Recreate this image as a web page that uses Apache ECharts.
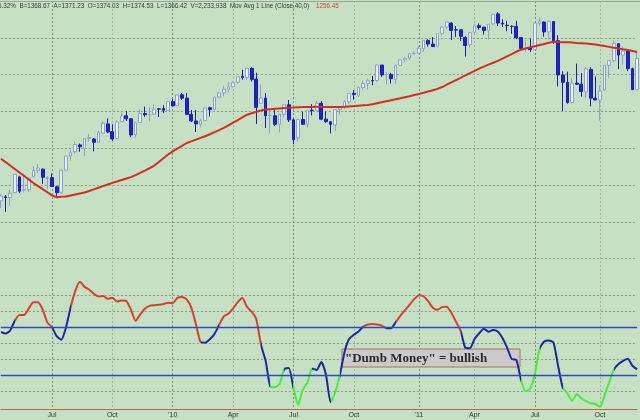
<!DOCTYPE html>
<html>
<head>
<meta charset="utf-8">
<script src="https://cdn.jsdelivr.net/npm/echarts@6/dist/echarts.min.js"></script>
<style>
  html, body { margin: 0; padding: 0; }
  #chart { width: 640px; height: 420px; }
</style>
</head>
<body>
<div id="chart"></div>
<script>
// weekly bars, first Friday of the range
const firstWeek = Date.UTC(2009, 3, 17);

const opens = [857,868,866,879,922,886,887,923,940,943,
  918,920,895,880,940,979,990,1009,999,1026,
  1025,1016,1041,1066,1045,1026,1072,1088,1080,1037,
  1070,1094,1091,1092,1107,1108,1103,1127,1116,1145,
  1136,1092,1074,1065,1075,1110,1105,1139,1150,1160,
  1167,1179,1195,1192,1217,1188,1122,1136,1088,1088,
  1065,1092,1118,1077,1028,1078,1065,1103,1102,1122,
  1079,1072,1063,1105,1110,1126,1149,1144,1165,1176,
  1184,1184,1226,1200,1200,1187,1225,1240,1245,1257,
  1258,1271,1293,1283,1277,1311,1329,1340,1322,1322,
  1301,1281,1315,1333,1329,1319,1338,1365,1340,1334,
  1331,1331,1301,1272,1272,1268,1339,1343,1316,1344,
  1292,1199,1179,1124,1177,1174,1153,1214,1136,1131,
  1158,1225,1238,1284,1253,1264,1216,1159];
const closes = [870,866,878,929,883,887,919,940,946,921,
  919,896,879,940,979,988,1010,1004,1026,1029,
  1016,1043,1068,1044,1025,1072,1088,1080,1036,1069,
  1094,1091,1092,1106,1106,1103,1127,1115,1145,1136,
  1092,1074,1066,1075,1109,1105,1139,1150,1160,1167,
  1178,1194,1192,1217,1187,1111,1136,1088,1089,1065,
  1092,1118,1077,1023,1078,1065,1103,1102,1122,1079,
  1072,1065,1105,1110,1126,1149,1146,1165,1176,1183,
  1183,1226,1199,1200,1189,1225,1240,1244,1257,1258,
  1272,1293,1283,1276,1311,1329,1343,1320,1321,1304,
  1279,1314,1332,1328,1320,1337,1364,1340,1338,1333,
  1331,1300,1271,1272,1268,1340,1344,1316,1345,1292,
  1199,1179,1124,1177,1174,1154,1216,1136,1131,1155,
  1225,1238,1285,1253,1264,1216,1159,1244];
const lows = [837,827,843,878,878,880,881,920,932,903,
  888,896,869,875,940,966,985,990,979,1018,
  991,1016,1040,1041,1020,1025,1072,1074,1030,1029,
  1069,1085,1073,1091,1085,1095,1102,1115,1116,1131,
  1090,1071,1044,1056,1075,1086,1105,1136,1141,1151,
  1165,1175,1186,1185,1181,1066,1122,1055,1040,1060,
  1043,1084,1071,1011,1018,1063,1056,1089,1101,1076,
  1069,1040,1047,1092,1106,1121,1132,1139,1159,1159,
  1171,1180,1194,1173,1176,1174,1225,1233,1241,1254,
  1257,1262,1276,1275,1276,1306,1324,1294,1302,1291,
  1249,1274,1307,1322,1309,1295,1334,1332,1330,1318,
  1311,1296,1268,1262,1262,1268,1333,1303,1295,1283,
  1168,1101,1121,1121,1172,1140,1137,1114,1131,1075,
  1157,1191,1234,1215,1227,1209,1158,1158];
const highs = [876,873,888,930,925,931,920,951,956,945,
  925,931,898,943,979,996,1018,1013,1027,1039,
  1028,1048,1074,1081,1065,1075,1097,1101,1080,1072,
  1106,1113,1111,1119,1107,1117,1127,1133,1145,1150,
  1150,1104,1104,1080,1112,1113,1139,1153,1170,1180,
  1181,1194,1213,1218,1220,1205,1173,1150,1104,1105,
  1092,1120,1131,1081,1079,1099,1103,1120,1129,1128,
  1100,1073,1105,1110,1131,1149,1158,1168,1184,1189,
  1196,1227,1226,1207,1205,1225,1241,1247,1259,1263,
  1278,1293,1296,1302,1311,1331,1344,1342,1332,1322,
  1304,1315,1338,1339,1329,1338,1364,1370,1350,1346,
  1334,1346,1301,1292,1298,1341,1356,1344,1347,1345,
  1307,1209,1208,1191,1230,1204,1220,1220,1195,1171,
  1225,1240,1293,1285,1277,1265,1219,1260];

// Mov Avg (Close,40)
const ma40 = [971.5,962.3,952.8,943.3,933.8,924.3,914.8,905.3,896.9,888.8,
  880.4,872.0,866.8,867.9,869.0,871.7,874.4,877.1,879.8,883.6,
  888.0,892.6,896.9,901.5,905.8,909.7,913.7,917.5,921.3,926.8,
  933.0,939.2,945.5,952.5,962.6,972.6,982.9,991.3,998.9,1006.5,
  1014.1,1018.7,1023.3,1027.9,1032.5,1037.9,1043.7,1049.3,1055.3,1062.1,
  1069.4,1076.5,1084.0,1091.1,1094.9,1098.7,1102.5,1104.9,1106.0,1107.1,
  1108.2,1109.0,1109.8,1110.6,1111.5,1111.7,1112.0,1112.2,1112.5,1112.5,
  1112.2,1112.0,1112.0,1111.7,1112.5,1113.6,1114.5,1115.5,1116.5,1117.4,
  1119.3,1122.0,1124.6,1127.4,1130.2,1132.8,1135.6,1138.6,1141.3,1144.3,
  1147.2,1150.5,1154.0,1157.5,1161.3,1166.2,1172.5,1178.7,1185.0,1191.2,
  1197.7,1203.9,1210.2,1216.4,1221.8,1227.0,1232.1,1237.3,1243.2,1249.5,
  1255.7,1262.2,1267.7,1270.9,1274.2,1277.1,1280.4,1283.4,1286.6,1289.6,
  1288.8,1288.2,1287.7,1287.2,1286.1,1285.3,1284.2,1283.1,1281.8,1279.6,
  1277.5,1275.3,1273.1,1270.9,1268.7,1266.6,1263.9,1261.4];

// "Dumb Money" confidence
const dumbMoney = [0.469,0.459,0.478,0.539,0.575,0.575,0.616,0.654,0.654,0.608,
  0.529,0.498,0.443,0.420,0.495,0.620,0.724,0.783,0.752,0.734,
  0.708,0.691,0.694,0.676,0.683,0.659,0.666,0.663,0.609,0.538,
  0.579,0.614,0.632,0.636,0.639,0.644,0.652,0.648,0.682,0.688,
  0.673,0.621,0.517,0.406,0.402,0.423,0.457,0.513,0.566,0.584,
  0.616,0.655,0.681,0.625,0.596,0.549,0.389,0.289,0.129,0.123,
  0.144,0.236,0.244,0.120,0.013,0.109,0.152,0.241,0.231,0.282,
  0.202,0.031,0.094,0.200,0.344,0.426,0.451,0.472,0.501,0.516,
  0.518,0.515,0.509,0.492,0.492,0.529,0.569,0.604,0.639,0.674,
  0.699,0.692,0.661,0.621,0.608,0.624,0.627,0.589,0.533,0.476,
  0.371,0.367,0.425,0.461,0.489,0.471,0.481,0.472,0.431,0.371,
  0.300,0.294,0.171,0.098,0.114,0.210,0.365,0.410,0.416,0.402,
  0.256,0.120,0.086,0.038,0.079,0.054,0.036,0.023,0.019,0.000,
  0.072,0.156,0.234,0.269,0.288,0.301,0.258,0.235];

// colour state of the line: [from bar, to bar, state]
const dumbSegments = [
  [0, 2.7, 'neutral'], [2.7, 11.0, 'high'], [11.0, 14.9, 'neutral'],
  [14.9, 42.8, 'high'], [42.8, 46.75, 'neutral'], [46.75, 55.8, 'high'],
  [55.8, 57.8, 'neutral'], [57.8, 60.6, 'low'], [60.6, 62.8, 'neutral'],
  [62.8, 66.8, 'low'], [66.8, 70.9, 'neutral'], [70.9, 73.0, 'low'],
  [73.0, 78.0, 'neutral'], [78.0, 82.8, 'high'], [82.8, 85.4, 'neutral'],
  [85.4, 98.9, 'high'], [98.9, 111.8, 'neutral'], [111.8, 115.9, 'low'],
  [115.9, 120.8, 'neutral'], [120.8, 131.8, 'low'], [131.8, 138, 'neutral']
];
const stateColors = { high: '#d8402a', neutral: '#1a2a9c', low: '#44ee3a' };

const thresholdLevels = [0.2, 0.5];
const quarterNames = { 4: 'Apr', 7: 'Jul', 10: 'Oct' };

const headerText = '-6.32%  B=1368.67  A=1371.23  O=1374.03  H=1374.53  L=1366.42  V=2,233,938  Mov Avg 1 Line (Close,40,0)';
const headerValue = '1256.45';

const weeks = [];
for (let i = 0; i < closes.length; i++) {
  weeks.push(new Date(firstWeek + i * 7 * 86400000).toISOString().slice(0, 10));
}

// label on the first bar of each quarter month
function quarterLabel(i) {
  if (i === 0) return '';
  const m = +weeks[i].slice(5, 7);
  const pm = +weeks[i - 1].slice(5, 7);
  if (m === pm || (m - 1) % 3 !== 0) return '';
  return m === 1 ? "'" + weeks[i].slice(2, 4) : quarterNames[m];
}

const font = '"Liberation Sans", Arial, sans-serif';
const gridDash = { color: '#8c9c8a', width: 1, type: [2, 2] };

const chart = echarts.init(document.getElementById('chart'));

const option = {
  backgroundColor: '#c6e0c4',
  animation: false,
  grid: [
    { left: 0.9, width: 636.2, top: 1, height: 294.4 },
    { left: 0.9, width: 636.2, top: 311, height: 80 },
    { left: 0.9, width: 636.2, top: 1, height: 408 }
  ],
  xAxis: [
    { type: 'category', gridIndex: 0, data: weeks, boundaryGap: false, show: false },
    { type: 'category', gridIndex: 1, data: weeks, boundaryGap: false, show: false },
    {
      type: 'category', gridIndex: 2, data: weeks, boundaryGap: false,
      axisLine: { lineStyle: { color: '#c8643c', width: 1 } },
      axisTick: { show: false },
      axisLabel: {
        interval: (i) => quarterLabel(i) !== '',
        formatter: (v, i) => quarterLabel(i),
        fontSize: 7, color: '#333', margin: 3, fontFamily: font
      },
      splitLine: {
        show: true,
        interval: (i) => quarterLabel(i) !== '',
        lineStyle: { color: ['#7c8c7a', '#a3b4a1'], width: 1, type: [2, 2] }
      }
    }
  ],
  yAxis: [
    {
      type: 'value', gridIndex: 0, min: 600, max: 1400, interval: 100,
      axisLine: { show: false }, axisTick: { show: false }, axisLabel: { show: false },
      splitLine: { show: true, lineStyle: gridDash }
    },
    {
      type: 'value', gridIndex: 1, min: 0.1, max: 0.6, interval: 0.1,
      axisLine: { show: false }, axisTick: { show: false }, axisLabel: { show: false },
      splitLine: { show: true, lineStyle: gridDash }
    },
    { type: 'value', gridIndex: 2, show: false, min: 0, max: 1 }
  ],
  visualMap: {
    type: 'piecewise', show: false, seriesIndex: 2, dimension: 0,
    pieces: dumbSegments.map(([a, b, s]) => ({ gte: a, lt: b, color: stateColors[s] }))
  },
  series: [
    {
      type: 'candlestick', xAxisIndex: 0, yAxisIndex: 0,
      barWidth: '70%',
      data: opens.map((o, i) => [o, closes[i], lows[i], highs[i]]),
      itemStyle: {
        color: '#e6eef2', color0: '#1c22d0',
        borderColor: '#8ea2c8', borderColor0: '#1a1fb8', borderWidth: 1
      }
    },
    {
      type: 'line', xAxisIndex: 0, yAxisIndex: 0, data: ma40,
      symbol: 'none', z: 3,
      lineStyle: { color: '#d42e1e', width: 2 }
    },
    {
      type: 'line', xAxisIndex: 1, yAxisIndex: 1, data: dumbMoney,
      symbol: 'none', clip: false, smooth: 0.2, z: 3,
      lineStyle: { width: 2 }
    },
    {
      // blue threshold lines of the lower panel
      type: 'line', xAxisIndex: 1, yAxisIndex: 1, data: [],
      symbol: 'none', z: 2,
      markLine: {
        silent: true, symbol: 'none',
        label: { show: false },
        lineStyle: { color: '#2f48c8', width: 1.3, type: 'solid', opacity: 1 },
        emphasis: { disabled: true },
        data: thresholdLevels.map(v => ({ yAxis: v }))
      }
    }
  ],
  graphic: [
    {
      type: 'line', z: 1,
      shape: { x1: 0, y1: 1.5, x2: 640, y2: 1.5 },
      style: { stroke: '#98a896', lineWidth: 1 }
    },
    {
      type: 'text', z: 4, x: -4, y: 6,
      style: {
        text: '{g|' + headerText + '}  {r|' + headerValue + '}',
        verticalAlign: 'middle',
        rich: {
          g: { fill: '#3a3a3a', fontSize: 6.3, fontFamily: font },
          r: { fill: '#d04a2a', fontSize: 6.3, fontFamily: font }
        }
      }
    },
    {
      type: 'rect', z: 1,
      shape: { x: 342, y: 349, width: 178, height: 18 },
      style: { fill: '#cbcbcb', stroke: '#b26c5c', lineWidth: 1 }
    },
    {
      type: 'text', z: 1, x: 345, y: 358.5,
      style: {
        text: '"Dumb Money" = bullish',
        verticalAlign: 'middle',
        fill: '#2a2a2a',
        font: 'bold 13px "Liberation Serif", "Times New Roman", serif'
      }
    }
  ]
};

chart.setOption(option);
</script>
</body>
</html>
